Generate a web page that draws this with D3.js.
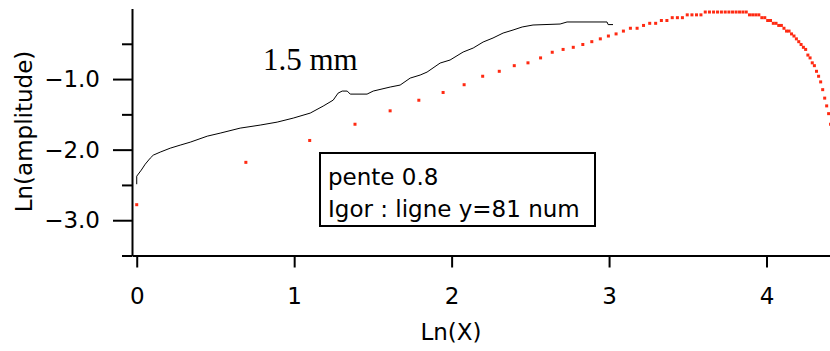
<!DOCTYPE html>
<html>
<head>
<meta charset="utf-8">
<script src="https://cdn.jsdelivr.net/npm/d3@7"></script>
<style>
  body { margin: 0; background: #fff; }
  svg { display: block; }
  .axis path, .axis line { stroke: #000; stroke-width: 2; }
  .axis text { font-family: "DejaVu Sans", sans-serif; font-size: 23px; fill: #000; }
  .label { font-family: "DejaVu Sans", sans-serif; font-size: 23px; fill: #000; }
  .note { font-family: "Liberation Serif", "Times New Roman", serif; font-size: 31px; fill: #000; }
</style>
</head>
<body>
<div id="chart"></div>
<script>
// profile along one image row (black line), already in ln / ln
const profileLnX = [0, 0, 0.029, 0.054, 0.086, 0.105, 0.149, 0.213, 0.276, 0.340, 0.448, 0.530,
  0.657, 0.784, 0.892, 0.994, 1.102, 1.184, 1.248, 1.279, 1.305, 1.337, 1.356, 1.463, 1.502,
  1.610, 1.673, 1.737, 1.800, 1.844, 1.927, 1.990, 2.073, 2.137, 2.200, 2.263, 2.327, 2.390,
  2.448, 2.517, 2.689, 2.733, 2.987, 2.994, 3.025];
const profileLnAmp = [-2.49, -2.376, -2.29, -2.206, -2.12, -2.078, -2.035, -1.979, -1.936, -1.894,
  -1.809, -1.766, -1.695, -1.652, -1.610, -1.553, -1.482, -1.383, -1.298, -1.199, -1.170, -1.170,
  -1.213, -1.213, -1.170, -1.113, -1.085, -0.986, -0.943, -0.901, -0.773, -0.730, -0.617, -0.560,
  -0.475, -0.418, -0.348, -0.305, -0.262, -0.234, -0.220, -0.191, -0.191, -0.228, -0.228];

// sampled amplitude (red points), X is the raw position
const sampleX = [1, 2, 3, 4, 5, 6, 7, 8, 9, 10, 11, 12, 13, 14, 15, 16, 17, 18, 19, 20,
  21, 22, 23, 24, 25, 26, 27, 28, 29, 30, 31, 32, 33, 34, 35, 36, 37, 38, 39, 40,
  41, 42, 43, 44, 45, 46, 47, 48, 49, 50, 51, 52, 53, 54, 55, 56, 57, 58, 59, 60,
  61, 62, 63, 64, 65, 66, 67, 68, 69, 70, 71, 72, 73, 74, 75, 76, 77, 78, 79, 80,
  81, 82, 83];
const sampleLnAmp = [-2.78, -2.18, -1.87, -1.64, -1.45, -1.30, -1.19, -1.08, -0.96, -0.89,
  -0.81, -0.77, -0.70, -0.62, -0.58, -0.55, -0.51, -0.47, -0.43, -0.39,
  -0.36, -0.32, -0.28, -0.28, -0.24, -0.21, -0.21, -0.17, -0.17, -0.13,
  -0.13, -0.13, -0.09, -0.09, -0.09, -0.09, -0.05, -0.05, -0.05, -0.05,
  -0.05, -0.05, -0.05, -0.05, -0.05, -0.05, -0.05, -0.05, -0.09, -0.09,
  -0.09, -0.09, -0.13, -0.13, -0.17, -0.17, -0.21, -0.21, -0.24, -0.24,
  -0.28, -0.32, -0.32, -0.36, -0.39, -0.43, -0.47, -0.51, -0.55, -0.58,
  -0.66, -0.70, -0.77, -0.81, -0.89, -0.96, -1.04, -1.15, -1.27, -1.38,
  -1.49, -1.64, -1.83];

const xTicks = [0, 1, 2, 3, 4];
const yTicks = [-1, -2, -3];
const yMinorTicks = [-0.5, -1.5, -2.5, -3.5];
const noteLines = ["pente 0.8", "Igor : ligne y=81 num"];

class LnPlot {
  constructor(_config) {
    this.config = {
      parentElement: _config.parentElement,
      containerWidth: _config.containerWidth || 830,
      containerHeight: _config.containerHeight || 351,
      xLabel: _config.xLabel,
      yLabel: _config.yLabel
    }
    this.initVis();
  }

  initVis() {
    let vis = this;

    vis.svg = d3.select(vis.config.parentElement)
      .append("svg")
      .attr("width", vis.config.containerWidth)
      .attr("height", vis.config.containerHeight);

    vis.xScale = d3.scaleLinear()
      .domain([-0.03, 4.4])
      .range([132, 829.5]);

    vis.yScale = d3.scaleLinear()
      .domain([-3.5, 0])
      .range([255.5, 8.5]);

    // x axis, ticks hang below
    vis.svg.append("g")
      .attr("class", "axis x-axis")
      .attr("transform", "translate(0,255.5)")
      .call(d3.axisBottom(vis.xScale)
        .tickValues(xTicks)
        .tickSize(12)
        .tickSizeOuter(0)
        .tickPadding(20)
        .tickFormat(d3.format("d")));

    // y axis: labelled majors + short minors
    vis.svg.append("g")
      .attr("class", "axis y-axis")
      .attr("transform", "translate(132,0)")
      .call(d3.axisLeft(vis.yScale)
        .tickValues(yTicks)
        .tickSize(19)
        .tickSizeOuter(0)
        .tickPadding(13)
        .tickFormat(d3.format(".1f")));

    vis.svg.append("g")
      .attr("class", "axis y-minor")
      .attr("transform", "translate(132,0)")
      .call(d3.axisLeft(vis.yScale)
        .tickValues(yMinorTicks)
        .tickSize(10)
        .tickFormat(""))
      .select(".domain").remove();

    vis.svg.append("text")
      .attr("class", "label")
      .attr("text-anchor", "middle")
      .attr("transform", "translate(31.5,131.5) rotate(-90)")
      .text(vis.config.yLabel);

    vis.svg.append("text")
      .attr("class", "label")
      .attr("text-anchor", "middle")
      .attr("x", 451)
      .attr("y", 340)
      .text(vis.config.xLabel);

    // black profile
    let line = d3.line()
      .x(i => vis.xScale(profileLnX[i]))
      .y(i => vis.yScale(profileLnAmp[i]));

    vis.svg.append("path")
      .datum(d3.range(profileLnX.length))
      .attr("fill", "none")
      .attr("stroke", "#000")
      .attr("stroke-width", 1)
      .attr("d", line);

    // red samples, small squares
    vis.svg.selectAll(".pt")
      .data(sampleX)
      .enter()
      .append("rect")
      .attr("class", "pt")
      .attr("x", (d, i) => vis.xScale(Math.log(d)) - 1.5)
      .attr("y", (d, i) => vis.yScale(sampleLnAmp[i]) - 1.5)
      .attr("width", 3)
      .attr("height", 3)
      .attr("fill", "#ff2a12");

    vis.svg.append("text")
      .attr("class", "note")
      .attr("x", 263)
      .attr("y", 70)
      .text("1.5 mm");

    // annotation box
    vis.svg.append("rect")
      .attr("x", 320)
      .attr("y", 153)
      .attr("width", 275)
      .attr("height", 73)
      .attr("fill", "#fff")
      .attr("stroke", "#000")
      .attr("stroke-width", 2);

    vis.svg.selectAll(".boxtext")
      .data(noteLines)
      .enter()
      .append("text")
      .attr("class", "label boxtext")
      .attr("x", 328)
      .attr("y", (d, i) => 185 + i * 32)
      .text(d => d);
  }
}

new LnPlot({
  parentElement: "#chart",
  xLabel: "Ln(X)",
  yLabel: "Ln(amplitude)"
});
</script>
</body>
</html>
